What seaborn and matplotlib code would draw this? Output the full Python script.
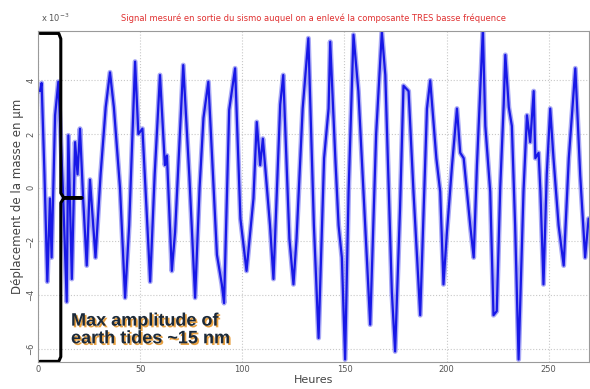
import matplotlib
matplotlib.use("Agg")
import matplotlib.pyplot as plt
import matplotlib.patheffects as pe
import seaborn as sns
import pandas as pd

# --- Data (hours, displacement x 1e-3 um) ---
hours = [0.8, 1.6, 3.0, 4.4, 5.7, 6.5, 8.2, 9.8, 12.0, 13.9, 14.7, 16.4, 18.0, 19.2,
         20.4, 22.0, 23.7, 25.3, 28.0, 30.5, 33.0, 35.1, 37.0, 40.0, 42.5, 44.5,
         47.4, 49.0, 51.0, 54.8, 57.0, 59.6, 62.0, 63.0, 65.4, 67.0, 71.0, 74.0,
         76.8, 79.0, 80.9, 83.3, 85.5, 87.5, 89.9, 91.0, 93.5, 96.4, 99.0, 102.0,
         105.4, 107.0, 108.7, 110.0, 113.5, 115.2, 118.5, 120.0, 123.0, 125.0,
         126.5, 129.5, 132.3, 135.0, 137.3, 140.0, 142.2, 143.0, 145.5, 147.1,
         148.7, 150.3, 152.0, 154.4, 156.8, 159.3, 162.6, 165.5, 168.3, 170.0,
         173.2, 174.8, 177.2, 178.9, 181.4, 183.8, 187.1, 190.4, 192.0, 195.0,
         196.9, 198.5, 200.2, 202.7, 205.1, 206.7, 208.4, 211.6, 213.3, 214.9,
         216.5, 217.8, 219.0, 221.4, 223.0, 224.6, 226.3, 228.0, 228.8, 230.5,
         232.0, 233.6, 235.3, 237.7, 239.4, 241.0, 242.7, 243.5, 245.1, 246.0,
         247.5, 249.1, 250.8, 252.4, 254.9, 257.4, 259.9, 263.1, 265.5, 267.9,
         269.6]
deplacement = [3.6, 3.9, 0.5, -3.5, -0.4, -2.6, 2.7, 3.95, 0.0, -4.25, 1.95, -3.4, 1.7, 0.5,
               2.2, -0.5, -2.9, 0.3, -2.6, 0.5, 3.0, 4.3, 3.0, 0.0, -4.1, -1.4,
               4.7, 2.0, 2.2, -3.5, 0.5, 4.2, 0.84, 1.2, -3.1, -1.65, 4.57, 0.4,
               -4.1, 0.0, 2.6, 3.95, 0.6, -2.5, -3.6, -4.3, 2.9, 4.45, -1.15, -3.1,
               -0.4, 2.45, 0.84, 1.83, -1.4, -3.4, 3.1, 4.2, -1.9, -3.6,
               -1.9, 2.95, 5.57, -1.4, -5.6, 1.1, 2.95, 5.44, 1.1, -1.4,
               -2.6, -6.4, -0.15, 5.7, 3.6, -0.15, -5.1, 2.0, 5.8, 4.2,
               -3.9, -6.1, -0.8, 3.8, 3.6, -0.15, -4.75, 2.95, 4.0, 1.1,
               -0.15, -3.6, -1.65, 0.84, 2.95, 1.3, 1.1, -1.4, -2.6, 0.84,
               3.6, 5.9, 2.3, -0.15, -4.75, -4.6, 0.0, 3.1, 4.95, 3.0,
               2.3, -1.4, -6.4, -0.15, 2.7, 1.7, 3.6, 1.1, 1.3, -0.15,
               -3.6, 0.5, 2.95, 1.1, -1.4, -2.9, 1.1, 4.45, 0.45, -2.6,
               -1.15]

x_ticks = [0, 50, 100, 150, 200, 250]
y_ticks = [-6, -4, -2, 0, 2, 4]

# bracket annotation drawn by hand on the original (data coords)
bracket_x = [0.8, 10.0, 11.0, 11.0, 12.5, 21.3, 12.5, 11.0, 11.0, 10.0, 0.8]
bracket_y = [5.75, 5.75, 5.55, -0.2, -0.38, -0.38, -0.38, -0.56, -6.3, -6.47, -6.47]

df = pd.DataFrame({"Heures": hours, "Deplacement": deplacement})

# --- Plot ---
sns.set_style("whitegrid", {"grid.linestyle": ":", "grid.color": "#c8c8c8",
                            "axes.edgecolor": "#9a9a9a"})
plt.rcParams['font.family'] = ['DejaVu Sans']

fig = plt.figure(figsize=(5.9, 3.89), dpi=100)
ax = fig.add_axes([0.065, 0.069, 0.934, 0.852])

# wide pale band under a thinner dark trace, to mimic the noisy record
sns.lineplot(data=df, x="Heures", y="Deplacement", sort=False, color="#8c8cf2",
             linewidth=3.6, alpha=0.75, ax=ax)
sns.lineplot(data=df, x="Heures", y="Deplacement", sort=False, color="#1818e6",
             linewidth=1.6, ax=ax)

ax.plot(bracket_x, bracket_y, color="black", linewidth=2.2, clip_on=False,
        solid_joinstyle="round")

ax.set_xlim(0, 270)
ax.set_ylim(-6.5, 5.85)
ax.set_xticks(x_ticks)
ax.set_yticks(y_ticks)
ax.tick_params(axis="both", labelsize=6, colors="#555555", length=0, pad=2)
for lab in ax.get_yticklabels():
    lab.set_rotation(90)
    lab.set_va("center")

ax.set_xlabel("Heures", fontsize=8, color="#444444", labelpad=1)
ax.set_ylabel("Déplacement de la masse en µm", fontsize=8.5, color="#444444", labelpad=2)
ax.set_title("Signal mesuré en sortie du sismo auquel on a enlevé la composante TRES basse fréquence",
             fontsize=6, color="#e03030", pad=7)
ax.text(0.005, 1.02, "x 10$^{-3}$", transform=ax.transAxes, fontsize=6, color="#555555",
        ha="left", va="bottom")

ax.text(16, -5.3, "Max amplitude of\nearth tides ~15 nm", fontsize=13, fontweight="bold",
        family=["Liberation Sans Narrow", "Liberation Sans", "DejaVu Sans"],
        color="#1b2a3a", ha="left", va="center", linespacing=1.05,
        path_effects=[pe.withSimplePatchShadow(offset=(1.2, -1.2), shadow_rgbFace="#e8a040", alpha=1.0)])

fig.savefig("out.png", dpi=100)
